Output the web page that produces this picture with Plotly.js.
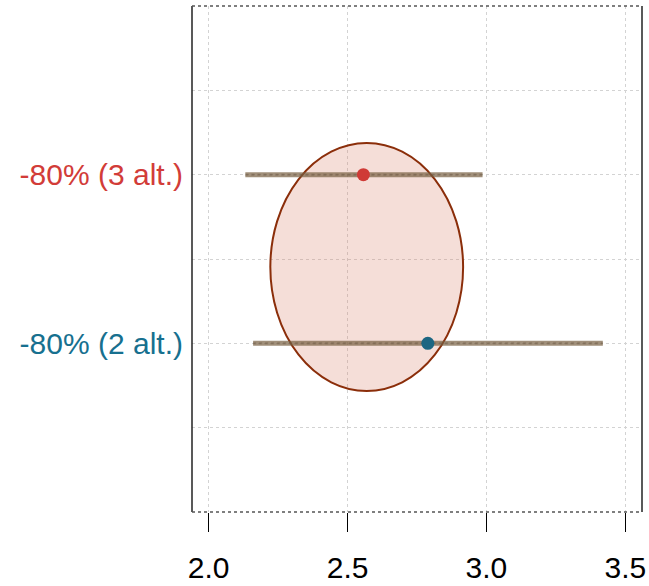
<!DOCTYPE html>
<html>
<head>
<meta charset="utf-8">
<script src="https://cdn.plot.ly/plotly-3.0.1.min.js"></script>
<style>html,body{margin:0;padding:0;background:#fff;}#chart{width:649px;height:586px;}</style>
</head>
<body>
<div id="chart"></div>
<script>
// Data
const categories = ["-80% (2 alt.)", "-80% (3 alt.)"];
const catPos = [1, 2];
const pointEst = [2.789, 2.557];
const ciLow = [2.160, 2.132];
const ciHigh = [3.419, 2.986];
const pointColors = ["#1c6682", "#cf3a36"];
const labelColors = ["#17708f", "#d23c38"];
const ellipseCenter = [2.569, 1.4525];
const ellipseRadius = [0.347, 0.7355];
const xTicks = [2.0, 2.5, 3.0, 3.5];
const xTickLabels = ["2.0", "2.5", "3.0", "3.5"];

const traces = [];
for (let i = 0; i < categories.length; i++) {
  traces.push({
    type: "scatter", mode: "lines",
    x: [ciLow[i], ciHigh[i]], y: [catPos[i], catPos[i]],
    line: {color: "rgba(120,95,65,0.7)", width: 5},
    hoverinfo: "skip", showlegend: false
  });
  traces.push({
    type: "scatter", mode: "lines",
    x: [ciLow[i], ciHigh[i]], y: [catPos[i], catPos[i]],
    line: {color: "rgba(100,80,60,0.35)", width: 2, dash: "dot"},
    hoverinfo: "skip", showlegend: false
  });
}
traces.push({
  type: "scatter", mode: "markers",
  x: pointEst, y: catPos,
  marker: {color: pointColors, size: 13},
  showlegend: false
});

const layout = {
  width: 649, height: 586,
  margin: {l: 192, r: 7, t: 6, b: 74},
  paper_bgcolor: "#fff", plot_bgcolor: "#fff",
  font: {family: "Liberation Sans, Arial, sans-serif", color: "#000"},
  xaxis: {
    range: [1.94, 3.56],
    tickvals: xTicks, ticktext: xTickLabels,
    ticks: "outside", ticklen: 19, tickcolor: "#000", tickwidth: 1,
    tickfont: {size: 30, color: "#000"},
    showgrid: true, gridcolor: "#d3d3d3", griddash: "dot", gridwidth: 1,
    zeroline: false, showline: false,
    ticklabelstandoff: 10
  },
  yaxis: {
    range: [0, 3],
    tickvals: catPos,
    ticktext: categories.map((c, i) => '<span style="color:' + labelColors[i] + '">' + c + '</span>'),
    ticks: "", tickfont: {size: 30},
    showgrid: true, gridcolor: "#d3d3d3", griddash: "dot", gridwidth: 1,
    minor: {tickvals: [0.5, 1.5, 2.5], showgrid: true, gridcolor: "#d3d3d3", griddash: "dot", gridwidth: 1, ticks: ""},
    zeroline: false, showline: false,
    ticklabelstandoff: 8
  },
  shapes: [
    {type: "circle", xref: "x", yref: "y", layer: "between",
     x0: ellipseCenter[0] - ellipseRadius[0], x1: ellipseCenter[0] + ellipseRadius[0],
     y0: ellipseCenter[1] - ellipseRadius[1], y1: ellipseCenter[1] + ellipseRadius[1],
     fillcolor: "rgba(214,125,100,0.25)", line: {color: "#8b2e0a", width: 2}},
    {type: "line", xref: "paper", yref: "paper", x0: 0, x1: 0, y0: 0, y1: 1, line: {color: "#222", width: 1.5}},
    {type: "line", xref: "paper", yref: "paper", x0: 1, x1: 1, y0: 0, y1: 1, line: {color: "#222", width: 1.5}},
    {type: "line", xref: "paper", yref: "paper", x0: 0, x1: 1, y0: 0, y1: 0, line: {color: "#555", width: 1.5, dash: "dot"}},
    {type: "line", xref: "paper", yref: "paper", x0: 0, x1: 1, y0: 1, y1: 1, line: {color: "#555", width: 1.5, dash: "dot"}}
  ]
};

Plotly.newPlot("chart", traces, layout, {displayModeBar: false, staticPlot: true});
</script>
</body>
</html>
